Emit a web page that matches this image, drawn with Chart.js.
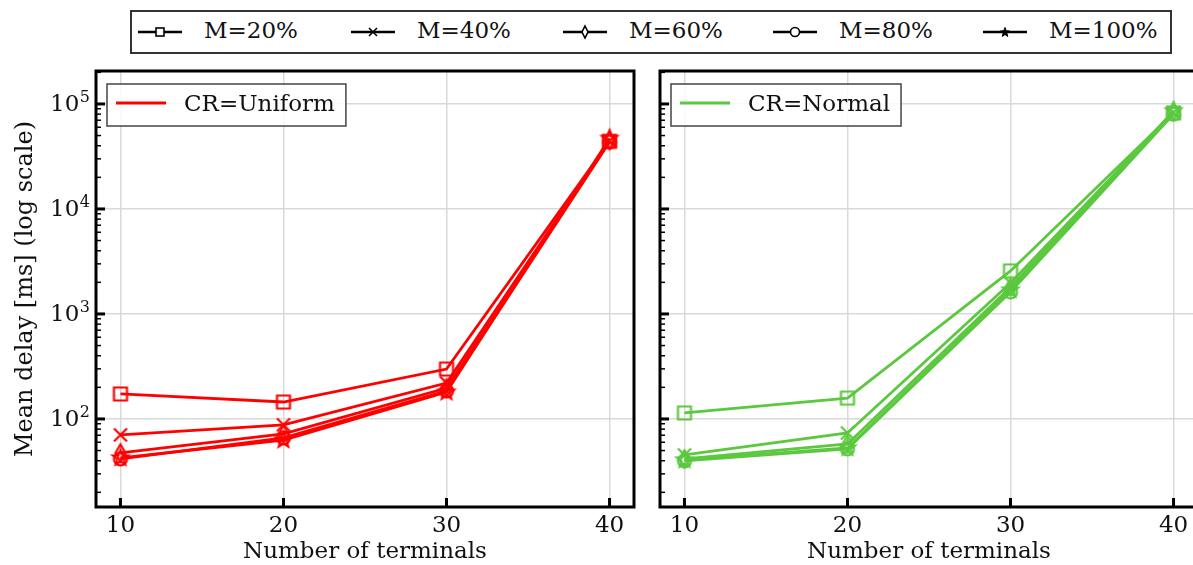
<!DOCTYPE html>
<html>
<head>
<meta charset="utf-8">
<script src="https://cdn.jsdelivr.net/npm/chart.js@4/dist/chart.umd.min.js"></script>
<style>
  html, body { margin: 0; padding: 0; width: 1193px; height: 565px; overflow: hidden; background: #fff; }
  #left { position: absolute; left: 0; top: 0; }
  #right { position: absolute; left: 650px; top: 0; }
  #legend { position: absolute; left: 130px; top: 10px; width: 1038px; height: 40px; border: 2px solid #333; background: #fff;
            font-family: "DejaVu Serif", serif; font-size: 23px; color: #111; }
  .item { position: absolute; top: 0; height: 40px; }
  .item svg { position: absolute; top: 11px; }
  .item span { position: absolute; top: 5px; white-space: nowrap; }
</style>
</head>
<body>
<canvas id="left" width="650" height="565"></canvas>
<canvas id="right" width="560" height="565"></canvas>
<div id="legend"></div>
<script>
// ---------------- data ----------------
const terminals = [10, 20, 30, 40];
const xTicks = [10, 20, 30, 40];
const seriesLabels = ['M=20%', 'M=40%', 'M=60%', 'M=80%', 'M=100%'];
const seriesMarkers = ['s', 'x', 'd', 'o', '*'];
const panelTitles = ['CR=Uniform', 'CR=Normal'];

// CR=Uniform (left panel)
const uniformM20  = [173, 145, 299, 44000];
const uniformM40  = [70.5, 88, 220, 44500];
const uniformM60  = [47.5, 72, 197, 45000];
const uniformM80  = [41.6, 66, 185, 43500];
const uniformM100 = [42.5, 63, 180, 47000];

// CR=Normal (right panel)
const normalM20  = [114, 158, 2570, 82000];
const normalM40  = [45.4, 73.5, 1970, 83000];
const normalM60  = [41.6, 57.8, 1800, 85000];
const normalM80  = [39.8, 51.8, 1620, 80000];
const normalM100 = [40.7, 53, 1690, 86000];

const yMin = 14.5, yMax = 206000;
const xMin = 8.5, xMax = 41.5;

// ---------------- style ----------------
const FONT = '"DejaVu Serif", serif';
const FS = 23;
const RED = '#ff0000';
const GREEN = '#5bc83f';
const GRID = '#d9d9d9';

function makeMarker(shape, color) {
  const S = 24, m = S / 2;
  const c = document.createElement('canvas');
  c.width = S; c.height = S;
  const g = c.getContext('2d');
  g.strokeStyle = color; g.lineWidth = 2.2; g.lineJoin = 'miter';
  g.beginPath();
  if (shape === 's') g.rect(m - 6.5, m - 6.5, 13, 13);
  else if (shape === 'x') { g.moveTo(m - 6.5, m - 6.5); g.lineTo(m + 6.5, m + 6.5); g.moveTo(m + 6.5, m - 6.5); g.lineTo(m - 6.5, m + 6.5); }
  else if (shape === 'd') { g.moveTo(m, m - 8.5); g.lineTo(m + 5, m); g.lineTo(m, m + 8.5); g.lineTo(m - 5, m); g.closePath(); }
  else if (shape === 'o') g.arc(m, m, 6.5, 0, Math.PI * 2);
  else if (shape === '*') {
    for (let i = 0; i < 10; i++) {
      const r = i % 2 === 0 ? 8 : 3.4;
      const a = -Math.PI / 2 + i * Math.PI / 5;
      const px = m + r * Math.cos(a), py = m + r * Math.sin(a);
      if (i === 0) g.moveTo(px, py); else g.lineTo(px, py);
    }
    g.closePath();
  }
  g.stroke();
  return c;
}

function isDecade(v) { const l = Math.log10(v); return Math.abs(l - Math.round(l)) < 1e-9; }

function logTicks() {
  const out = [];
  for (let e = 1; e <= 5; e++) for (let k = 1; k <= 9; k++) {
    const v = k * Math.pow(10, e);
    if (v >= yMin && v <= yMax) out.push({ value: v, major: k === 1 });
  }
  return out;
}

const framePlugin = {
  id: 'frame',
  afterDatasetsDraw(chart, args, opts) {
    const { ctx, chartArea: a } = chart;
    const xs = chart.scales.x, ys = chart.scales.y;
    ctx.save();
    ctx.strokeStyle = '#000';
    // inward ticks - y
    ys.ticks.forEach(t => {
      const y = ys.getPixelForValue(t.value);
      const maj = isDecade(t.value);
      ctx.lineWidth = maj ? 3 : 1.5;
      ctx.beginPath(); ctx.moveTo(a.left, y); ctx.lineTo(a.left + (maj ? 9 : 5), y); ctx.stroke();
      // y labels with superscript exponent
      if (maj && opts.labels) {
        const exp = String(Math.round(Math.log10(t.value)));
        ctx.fillStyle = '#111';
        ctx.textBaseline = 'middle'; ctx.textAlign = 'left';
        ctx.font = '16px ' + FONT;
        const w2 = ctx.measureText(exp).width;
        ctx.font = FS + 'px ' + FONT;
        const w1 = ctx.measureText('10').width;
        const right = a.left - 6;
        ctx.fillText('10', right - w2 - w1 - 0.5, y + 1);
        ctx.font = '16px ' + FONT;
        ctx.fillText(exp, right - w2, y - 6);
      }
    });
    // inward ticks - x
    xs.ticks.forEach(t => {
      const x = xs.getPixelForValue(t.value);
      ctx.lineWidth = 3;
      ctx.beginPath(); ctx.moveTo(x, a.bottom); ctx.lineTo(x, a.bottom - 9); ctx.stroke();
    });
    // panel legend
    ctx.font = FS + 'px ' + FONT;
    const tw = ctx.measureText(opts.text).width;
    const bx = a.left + 11, by = a.top + 13, bw = 77 + tw + 11, bh = 42;
    ctx.fillStyle = 'rgba(255,255,255,0.85)';
    ctx.fillRect(bx, by, bw, bh);
    ctx.lineWidth = 1.5; ctx.strokeStyle = '#444';
    ctx.strokeRect(bx, by, bw, bh);
    ctx.strokeStyle = opts.color; ctx.lineWidth = 2.8;
    ctx.beginPath(); ctx.moveTo(bx + 9, by + 19); ctx.lineTo(bx + 59, by + 19); ctx.stroke();
    ctx.fillStyle = '#111'; ctx.textBaseline = 'middle'; ctx.textAlign = 'left';
    ctx.fillText(opts.text, bx + 77, by + 21);
    // frame
    ctx.strokeStyle = '#000'; ctx.lineWidth = 3;
    ctx.strokeRect(a.left, a.top, a.right - a.left, a.bottom - a.top);
    ctx.restore();
  }
};

function buildChart(id, series, color, title, showY, yWidth, rightPad) {
  const datasets = series.map((vals, i) => ({
    label: seriesLabels[i],
    data: terminals.map((x, j) => ({ x: x, y: vals[j] })),
    borderColor: color,
    borderWidth: 2.8,
    pointStyle: makeMarker(seriesMarkers[i], color),
    pointRadius: 7,
    pointHoverRadius: 7,
    fill: false,
    tension: 0
  }));
  return new Chart(document.getElementById(id), {
    type: 'line',
    data: { datasets },
    options: {
      responsive: false,
      animation: false,
      devicePixelRatio: 1,
      layout: { padding: { top: 71, left: 0, right: rightPad, bottom: 0 } },
      plugins: { legend: { display: false }, tooltip: { enabled: false }, frame: { text: title, color: color, labels: showY } },
      scales: {
        x: {
          type: 'linear', min: xMin, max: xMax,
          afterBuildTicks: s => { s.ticks = xTicks.map(v => ({ value: v })); },
          afterFit: s => { s.height = 58; },
          ticks: { font: { family: FONT, size: FS }, color: '#111', padding: 5, maxRotation: 0, autoSkip: false },
          grid: { color: GRID, lineWidth: 1.5, drawTicks: false },
          border: { display: false },
          title: { display: true, text: 'Number of terminals', font: { family: FONT, size: FS }, color: '#111', padding: { top: 0, bottom: -1 } }
        },
        y: {
          type: 'logarithmic', min: yMin, max: yMax,
          afterBuildTicks: s => { s.ticks = logTicks(); },
          afterFit: s => { s.width = yWidth; },
          ticks: { display: false, autoSkip: false },
          grid: { color: c => (c.tick && isDecade(c.tick.value)) ? GRID : 'rgba(0,0,0,0)', lineWidth: 1.5, drawTicks: false },
          border: { display: false },
          title: { display: showY, text: 'Mean delay [ms] (log scale)', font: { family: FONT, size: 24 }, color: '#111', padding: { top: 11, bottom: 0 } }
        }
      }
    },
    plugins: [framePlugin]
  });
}

buildChart('left', [uniformM20, uniformM40, uniformM60, uniformM80, uniformM100], RED, panelTitles[0], true, 96, 16);
buildChart('right', [normalM20, normalM40, normalM60, normalM80, normalM100], GREEN, panelTitles[1], false, 10, 12);

// ---------------- top legend ----------------
const legendPos = [5, 218, 430, 640, 850];
const legendSvg = {
  s: '<rect x="18" y="5" width="8" height="8" fill="#fff" stroke="#000" stroke-width="1.6"/>',
  x: '<path d="M18 5 L26 13 M26 5 L18 13" stroke="#000" stroke-width="1.6"/>',
  d: '<path d="M22 3 L25 9 L22 15 L19 9 Z" fill="#fff" stroke="#000" stroke-width="1.6"/>',
  o: '<circle cx="22" cy="9" r="4.5" fill="#fff" stroke="#000" stroke-width="1.6"/>',
  '*': '<path d="M22 4.5 L23.2 7.8 L26.5 8 L23.8 10.1 L24.8 13.5 L22 11.5 L19.2 13.5 L20.2 10.1 L17.5 8 L20.8 7.8 Z" fill="#000" stroke="#000" stroke-width="1"/>'
};
const leg = document.getElementById('legend');
seriesLabels.forEach((lab, i) => {
  const d = document.createElement('div');
  d.className = 'item';
  d.style.left = legendPos[i] + 'px';
  d.innerHTML = '<svg width="46" height="18" viewBox="0 0 44 18"><line x1="0" y1="9" x2="44" y2="9" stroke="#000" stroke-width="2.5"/>' +
    legendSvg[seriesMarkers[i]] + '</svg><span style="left:67px">' + lab + '</span>';
  leg.appendChild(d);
});
</script>
</body>
</html>
